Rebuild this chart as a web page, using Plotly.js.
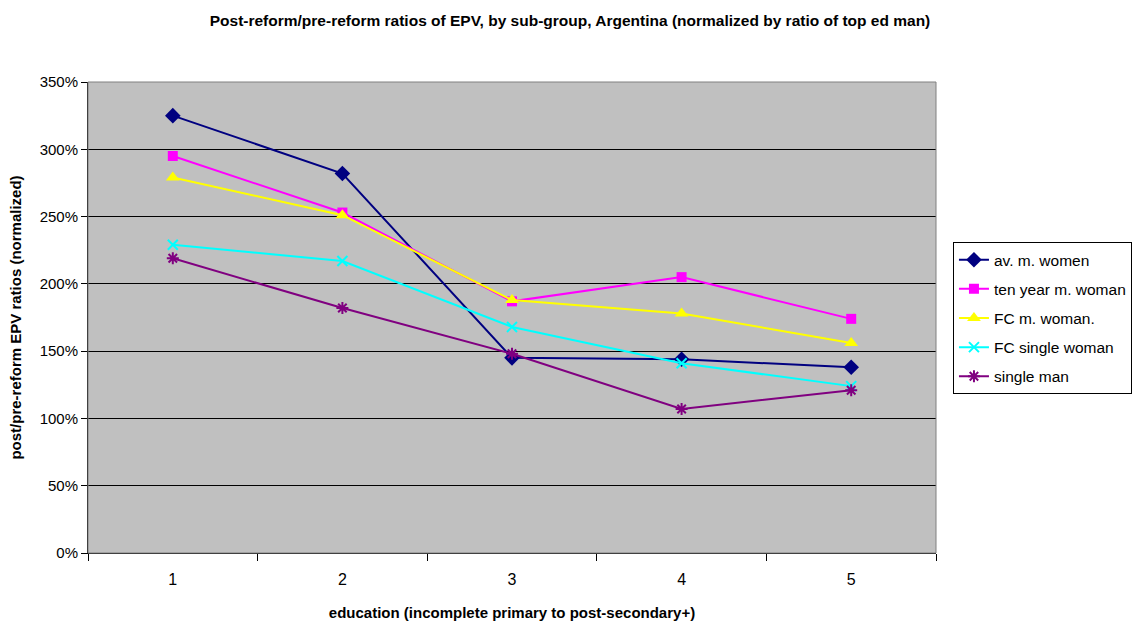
<!DOCTYPE html>
<html>
<head>
<meta charset="utf-8">
<script src="https://cdn.plot.ly/plotly-3.0.1.min.js"></script>
<style>
  html, body { margin: 0; padding: 0; background: #fff; }
  #chart { width: 1140px; height: 628px; }
</style>
</head>
<body>
<div id="chart"></div>
<script>
// Education levels (1 = incomplete primary ... 5 = post-secondary+)
const educationLevels = ['1', '2', '3', '4', '5'];

// Post/pre-reform EPV ratios, normalized by the top-educated man (%)
const avMarriedWomen   = [325, 282, 145, 144, 138];
const tenYearMarried   = [295, 253, 187, 205, 174];
const fcMarriedWoman   = [279, 251, 188, 178, 156];
const fcSingleWoman    = [229, 217, 168, 141, 124];
const singleMan        = [219, 182, 148, 107, 121];

const seriesNames = ['av. m. women', 'ten year m. woman', 'FC m. woman.', 'FC single woman', 'single man'];

const FONT = '"Liberation Sans", Arial, sans-serif';

function series(name, values, color, symbol, size, extraMarker) {
  return {
    type: 'scatter',
    mode: 'lines+markers',
    name: name,
    legendgroup: name,
    x: educationLevels,
    y: values.map(v => v / 100),
    line: { color: color, width: 2 },
    marker: Object.assign({ color: color, symbol: symbol, size: size }, extraMarker || {}),
    hoverinfo: 'name+y'
  };
}

const traces = [
  series(seriesNames[0], avMarriedWomen, '#000080', 'diamond', 12),
  series(seriesNames[1], tenYearMarried, '#FF00FF', 'square', 10),
  series(seriesNames[2], fcMarriedWoman, '#FFFF00', 'triangle-up', 12),
  series(seriesNames[3], fcSingleWoman, '#00FFFF', 'x-thin-open', 10, { line: { color: '#00FFFF', width: 2 } }),
  series(seriesNames[4], singleMan, '#800080', 'asterisk-open', 10, { line: { color: '#800080', width: 2 } })
];

const layout = {
  width: 1140,
  height: 628,
  margin: { l: 88, r: 204, t: 82, b: 75, autoexpand: false },
  paper_bgcolor: '#ffffff',
  plot_bgcolor: '#C0C0C0',
  font: { family: FONT, size: 15, color: '#000' },
  title: {
    text: '<b>Post-reform/pre-reform ratios of EPV, by sub-group, Argentina (normalized by ratio of top ed man)</b>',
    font: { family: FONT, size: 15.5, color: '#000' },
    x: 0.5, xanchor: 'center',
    y: 0.968, yanchor: 'middle'
  },
  xaxis: {
    type: 'category',
    range: [-0.5, 4.5],
    tickson: 'boundaries',
    ticks: 'outside',
    ticklen: 7,
    tickcolor: '#000',
    ticklabelstandoff: 12,
    showline: true,
    linecolor: '#000',
    linewidth: 1,
    showgrid: false,
    zeroline: false,
    tickfont: { family: FONT, size: 16 },
    title: {
      text: '<b>education (incomplete primary to post-secondary+)</b>',
      font: { family: FONT, size: 15 },
      standoff: 20
    }
  },
  yaxis: {
    range: [0, 3.5],
    tickvals: [0, 0.5, 1, 1.5, 2, 2.5, 3, 3.5],
    tickformat: '.0%',
    ticks: 'outside',
    ticklen: 6,
    tickcolor: '#000',
    showline: true,
    linecolor: '#000',
    linewidth: 1,
    showgrid: true,
    gridcolor: '#000',
    gridwidth: 1,
    zeroline: false,
    tickfont: { family: FONT, size: 15 },
    title: {
      text: '<b>post/pre-reform EPV ratios (normalized)</b>',
      font: { family: FONT, size: 15 },
      standoff: 14
    }
  },
  legend: {
    x: 1.02, xanchor: 'left',
    y: 0.66, yanchor: 'top',
    bgcolor: '#ffffff',
    bordercolor: '#000',
    borderwidth: 1,
    font: { family: FONT, size: 15.5 },
    tracegroupgap: 6,
    itemwidth: 30
  },
  shapes: [{
    type: 'rect', xref: 'paper', yref: 'paper',
    x0: 0, x1: 1, y0: 0, y1: 1,
    line: { color: '#808080', width: 1 },
    layer: 'above'
  }],
  showlegend: true
};

Plotly.newPlot('chart', traces, layout, { displayModeBar: false, staticPlot: true });
</script>
</body>
</html>
